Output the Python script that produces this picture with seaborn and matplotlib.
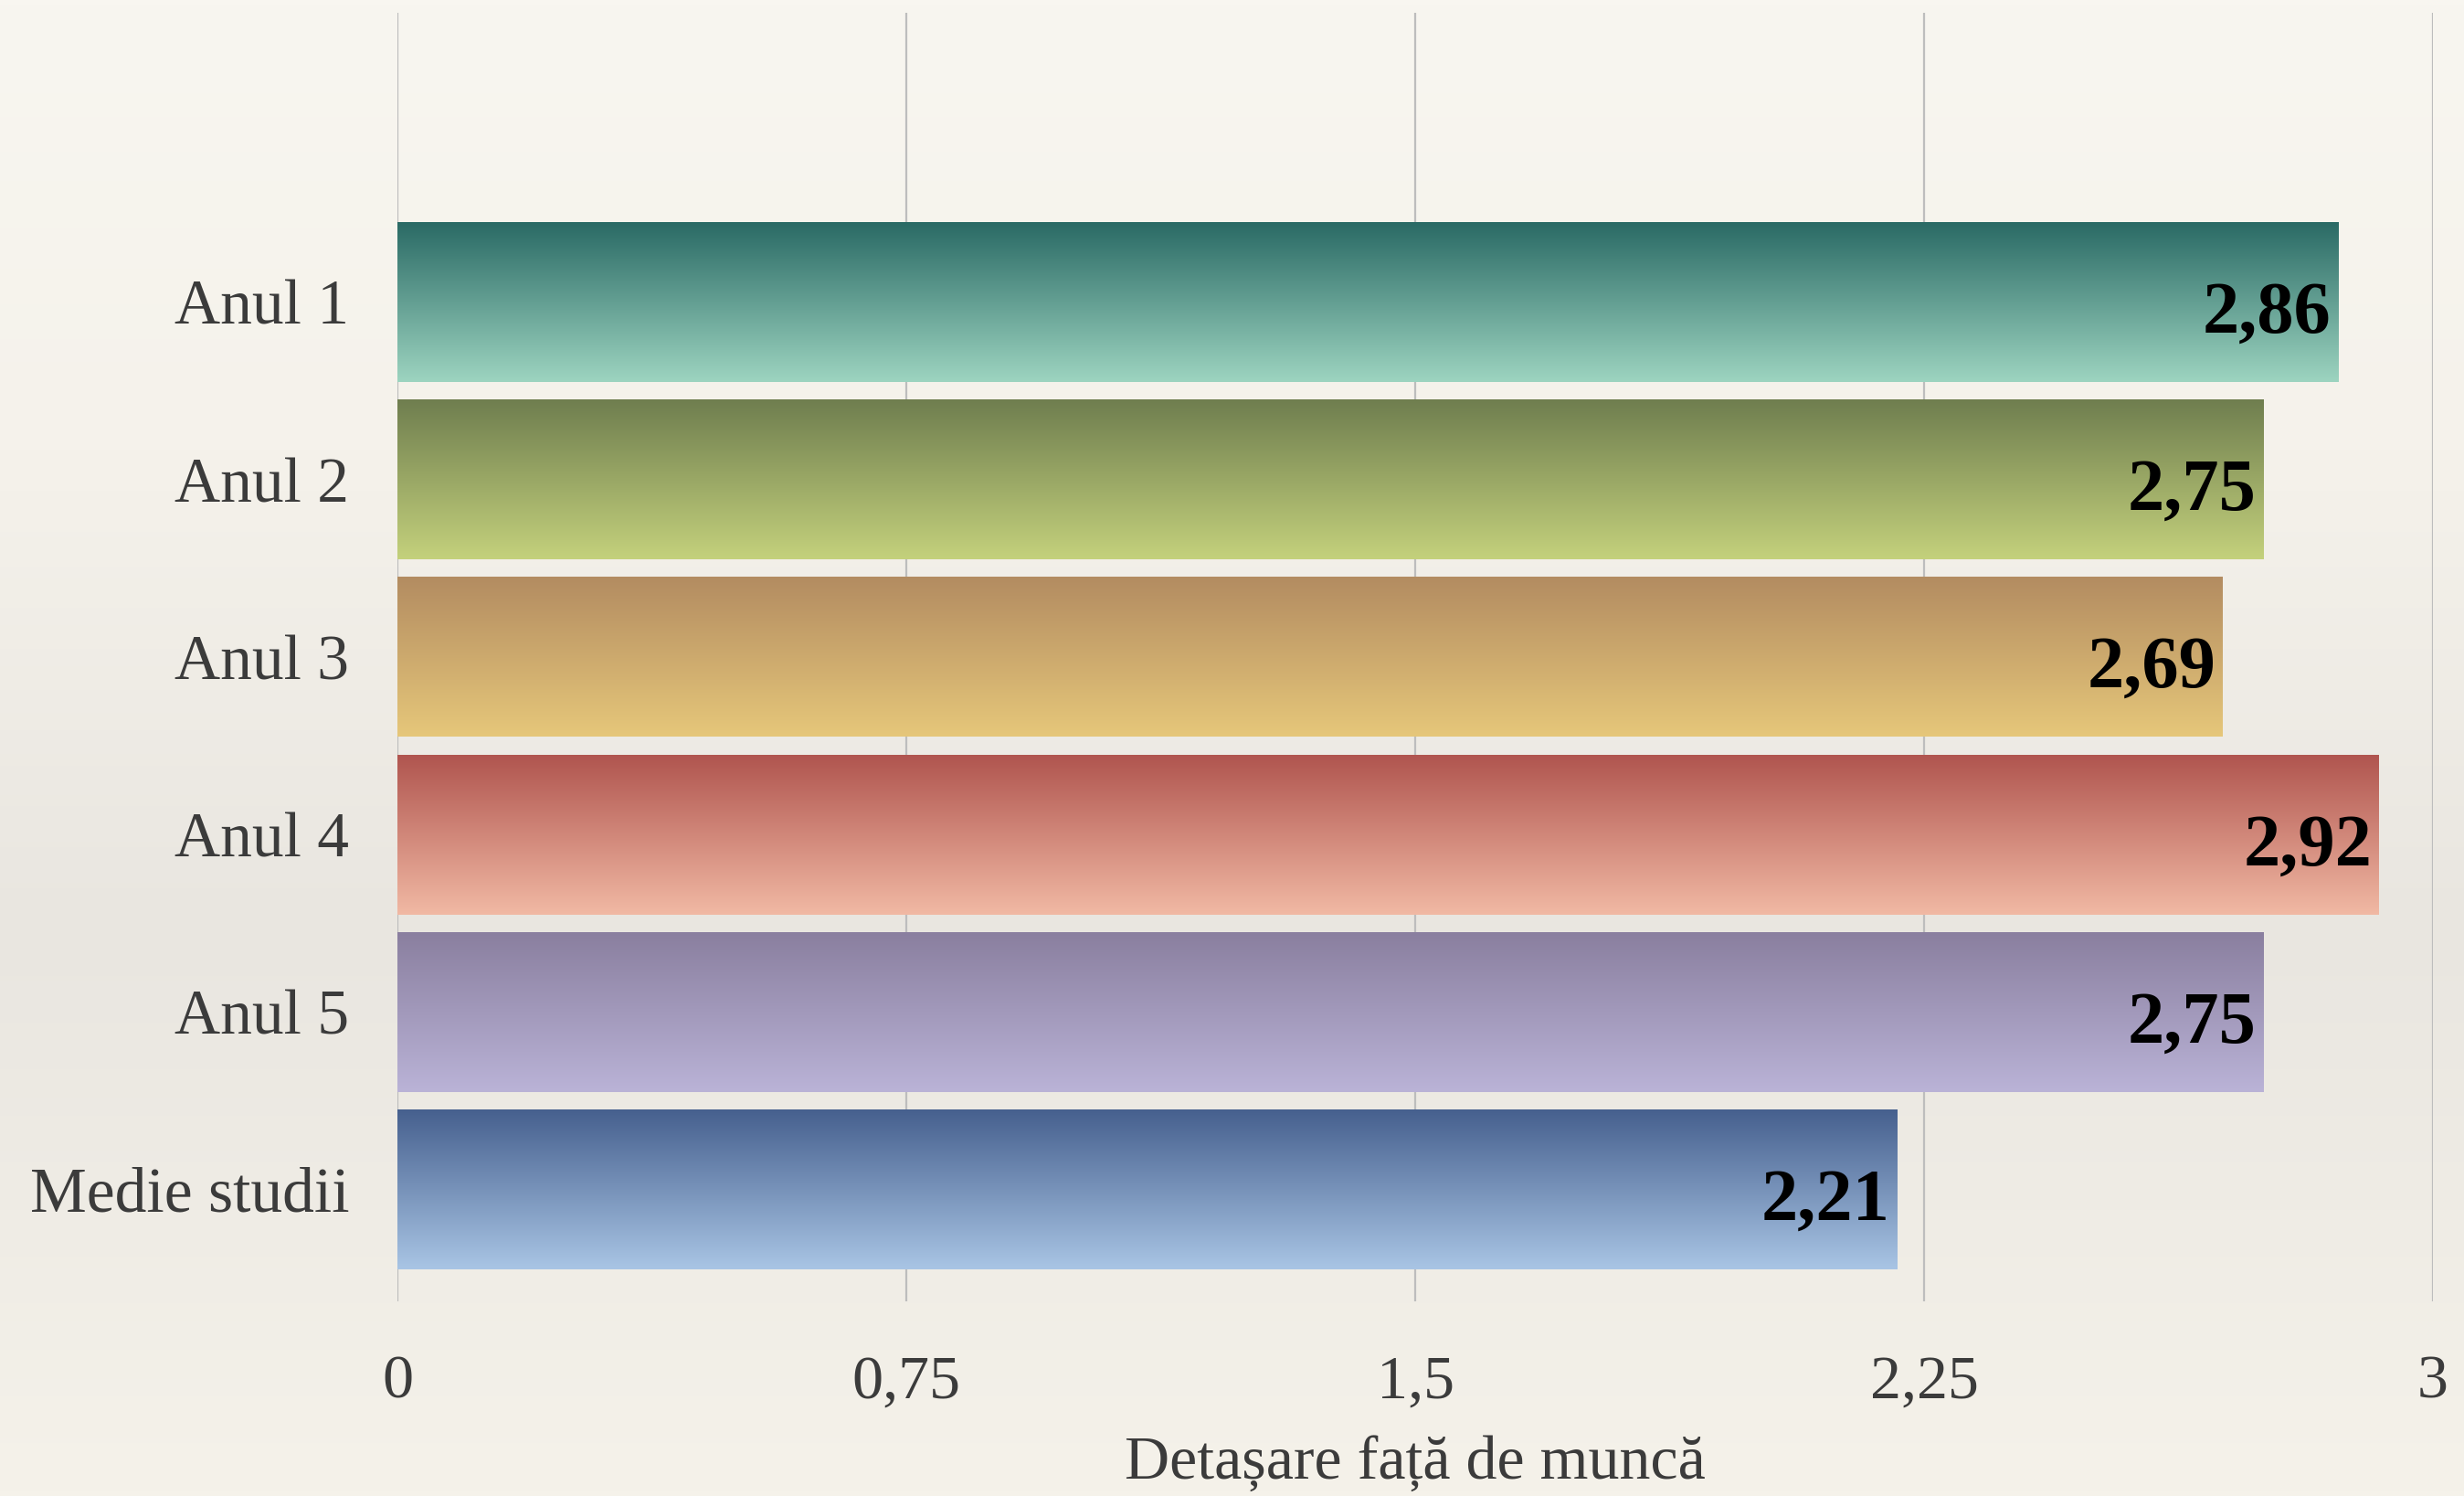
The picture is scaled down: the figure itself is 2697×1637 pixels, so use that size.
import numpy as np
import pandas as pd
import matplotlib
matplotlib.use("Agg")
import matplotlib.pyplot as plt
from matplotlib.colors import LinearSegmentedColormap
import seaborn as sns

# data
categories = ["Anul 1", "Anul 2", "Anul 3", "Anul 4", "Anul 5", "Medie studii"]
values = [2.86, 2.75, 2.69, 2.92, 2.75, 2.21]
value_labels = ["2,86", "2,75", "2,69", "2,92", "2,75", "2,21"]
x_ticks = [0, 0.75, 1.5, 2.25, 3]
x_tick_labels = ["0", "0,75", "1,5", "2,25", "3"]
x_title = "Detașare față de muncă"

# gradient colours for each bar (top -> bottom)
top_colors = ["#2a6a65", "#6f7e4f", "#b38c61", "#b0554f", "#8a7f9f", "#46608e"]
bottom_colors = ["#9dd4c0", "#c4d17c", "#e6c77a", "#f1b9a4", "#bab3d7", "#a9c5e5"]

sns.set_theme(style="white")
plt.rcParams['font.family'] = ['Liberation Serif', 'DejaVu Serif']

df = pd.DataFrame({"categorie": categories, "valoare": values})

fig = plt.figure(figsize=(13.485, 8.185), dpi=200)

# paper-like background
bg = fig.add_axes([0, 0, 1, 1], zorder=0)
bg_cmap = LinearSegmentedColormap.from_list(
    "paper", [(0, "#f8f6f0"), (0.3, "#f5f2eb"), (0.62, "#e9e6e0"), (1, "#f5f2ea")])
bg.imshow(np.linspace(0, 1, 256).reshape(-1, 1), aspect='auto', cmap=bg_cmap,
          extent=(0, 1, 0, 1))
bg.axis('off')

ax = fig.add_axes([0.1613, 0.1301, 0.8261, 0.8613], zorder=1)
ax.set_facecolor('none')

sns.barplot(data=df, x="valoare", y="categorie", orient='h', width=0.9,
            color='white', ax=ax)

grad = np.linspace(0, 1, 256).reshape(-1, 1)
for i, p in enumerate(ax.patches):
    x0, y0 = p.get_x(), p.get_y()
    w, h = p.get_width(), p.get_height()
    cmap = LinearSegmentedColormap.from_list(f"bar{i}", [top_colors[i], bottom_colors[i]])
    # y axis is inverted, so y0 is the visual top of the bar
    ax.imshow(grad, aspect='auto', cmap=cmap, extent=(x0, x0 + w, y0 + h, y0),
              origin='upper', zorder=2)
    p.set_facecolor('none')
    p.set_edgecolor('none')

for i, (v, lab) in enumerate(zip(values, value_labels)):
    ax.text(v - 0.01, i + 0.07, lab, ha='right', va='center', fontsize=29,
            fontweight='bold', color='black', zorder=3)

ax.set_xlim(0, 3)
ax.set_ylim(5.63, -1.63)
ax.set_xticks(x_ticks)
ax.set_xticklabels(x_tick_labels)
ax.set_ylabel("")
ax.set_xlabel(x_title, fontsize=24.5, color='#3b3b3b', va='top')
ax.xaxis.set_label_coords(0.5, -0.104)

ax.set_axisbelow(True)
ax.grid(axis='x', color='#bdbdbd', linewidth=0.8)
ax.grid(axis='y', visible=False)
for s in ax.spines.values():
    s.set_visible(False)
ax.tick_params(axis='y', length=0, pad=19, labelsize=25, labelcolor='#3b3b3b')
ax.tick_params(axis='x', length=0, pad=21, labelsize=24.5, labelcolor='#3b3b3b')

fig.savefig("out.png", dpi=200)
plt.close(fig)
